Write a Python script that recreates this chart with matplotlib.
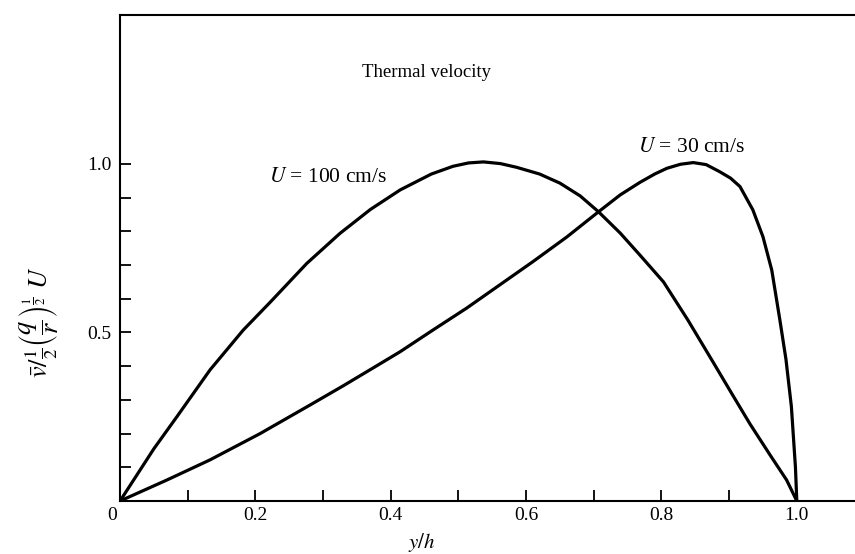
"""Thermal velocity profiles across the channel depth."""

import matplotlib

matplotlib.use("Agg")

import matplotlib.pyplot as plt
import numpy as np

# values
y_h_u100 = [0.0, 0.02, 0.05, 0.084, 0.133, 0.182, 0.222, 0.276, 0.325, 0.37,
            0.414, 0.46, 0.492, 0.515, 0.537, 0.562, 0.586, 0.62, 0.65, 0.68,
            0.707, 0.739, 0.768, 0.803, 0.839, 0.876, 0.905, 0.931, 0.96,
            0.985, 1.0]
v_u100 = [0.0, 0.062, 0.155, 0.25, 0.389, 0.507, 0.59, 0.705, 0.794, 0.865,
          0.923, 0.97, 0.993, 1.003, 1.006, 1.001, 0.99, 0.97, 0.943, 0.905,
          0.858, 0.795, 0.73, 0.65, 0.537, 0.413, 0.315, 0.228, 0.138,
          0.062, 0.0]

y_h_u30 = [0.0, 0.069, 0.133, 0.207, 0.281, 0.33, 0.38, 0.414, 0.463, 0.512,
           0.561, 0.61, 0.66, 0.707, 0.739, 0.768, 0.79, 0.808, 0.828, 0.847,
           0.866, 0.886, 0.902, 0.916, 0.935, 0.95, 0.963, 0.975, 0.984,
           0.992, 0.998, 1.0]
v_u30 = [0.0, 0.062, 0.122, 0.2, 0.285, 0.342, 0.402, 0.443, 0.508, 0.572,
         0.641, 0.71, 0.783, 0.858, 0.908, 0.945, 0.97, 0.987, 0.999, 1.004,
         0.998, 0.977, 0.958, 0.933, 0.864, 0.784, 0.685, 0.537, 0.42,
         0.28, 0.1, 0.0]

x_ticks = [0.1, 0.2, 0.3, 0.4, 0.5, 0.6, 0.7, 0.8, 0.9, 1.0]
x_labels = ["", "0.2", "", "0.4", "", "0.6", "", "0.8", "", "1.0"]
y_ticks = [0.1, 0.2, 0.3, 0.4, 0.5, 0.6, 0.7, 0.8, 0.9, 1.0]
y_labels = ["", "", "", "", "0.5", "", "", "", "", "1.0"]

plt.rcParams["font.family"] = ["Liberation Serif", "DejaVu Serif"]
plt.rcParams["mathtext.fontset"] = "stix"

fig = plt.figure(figsize=(8.55, 5.54), dpi=100)
ax = fig.add_axes([0.1404, 0.0957, 0.8596, 0.8773])

ax.plot(y_h_u100, v_u100, color="black", lw=2.3, solid_joinstyle="round")
ax.plot(y_h_u30, v_u30, color="black", lw=2.3, solid_joinstyle="round")

ax.set_xlim(0, 1.086)
ax.set_ylim(0, 1.442)

ax.spines["right"].set_visible(False)
for side in ("left", "bottom", "top"):
    ax.spines[side].set_linewidth(1.5)

ax.set_xticks(x_ticks)
ax.set_xticklabels(x_labels)
ax.set_yticks(y_ticks)
ax.set_yticklabels(y_labels)
ax.tick_params(direction="in", length=8, width=1.3, labelsize=14, pad=4)
ax.tick_params(axis="y", pad=6)

ax.text(-0.012, -0.018, "0", ha="center", va="top", fontsize=14,
        transform=ax.transData)

ax.set_xlabel(r"$y/h$", fontsize=15)
ax.xaxis.set_label_coords(0.41, -0.062)
ax.set_ylabel(r"$\bar{v}/\frac{1}{2}\left(\dfrac{q}{r}\right)^{\frac{1}{2}}\ U$",
              fontsize=19)
ax.yaxis.set_label_coords(-0.082, 0.368)

ax.text(0.357, 1.27, "Thermal velocity", fontsize=13.5, va="center")
ax.text(0.22, 0.96, r"$U$ = 100 cm/s", fontsize=15.5, va="center")
ax.text(0.765, 1.05, r"$U$ = 30 cm/s", fontsize=15.5, va="center")

fig.savefig("out.png", dpi=100)
